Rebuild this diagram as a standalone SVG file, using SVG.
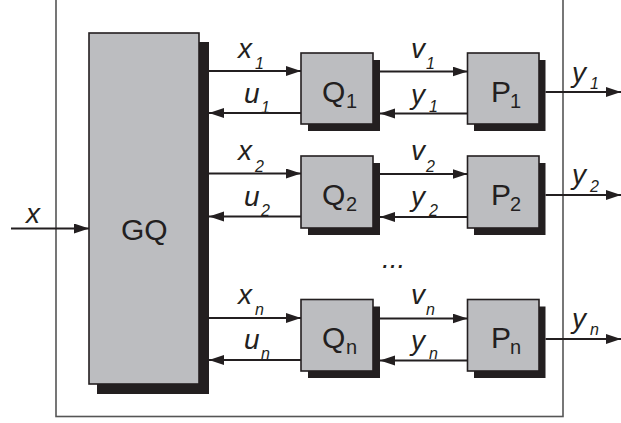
<svg xmlns="http://www.w3.org/2000/svg" width="621" height="423" viewBox="0 0 621 423">
  <defs>
    <marker id="arrow" markerUnits="userSpaceOnUse" markerWidth="16" markerHeight="12" refX="15" refY="5" orient="auto">
      <path d="M0,0 L15,5 L0,10 Z" fill="#231f20"/>
    </marker>
  </defs>
  <style>
    .frame { fill: none; stroke: #555; stroke-width: 1.6; }
    .box { fill: #bcbdc0; stroke: #231f20; stroke-width: 1.6; }
    .shadow { fill: #231f20; }
    .wire { stroke: #231f20; stroke-width: 2; fill: none; marker-end: url(#arrow); }
    .lab { font-family: "Liberation Sans", Arial, sans-serif; font-style: italic; font-size: 28px; fill: #231f20; }
    .sub { font-family: "Liberation Sans", Arial, sans-serif; font-style: italic; font-size: 16px; fill: #231f20; }
    .name { font-family: "Liberation Sans", Arial, sans-serif; font-size: 30px; fill: #231f20; }
    .nsub { font-family: "Liberation Sans", Arial, sans-serif; font-size: 20px; fill: #231f20; }
  </style>

  <!-- enclosing system boundary -->
  <rect class="frame" x="56" y="-5" width="507" height="421.5"/>

  <!-- coordinator -->
  <g id="GQ">
    <rect class="shadow" x="97" y="42" width="112" height="352"/>
    <rect class="box" x="89" y="33" width="110" height="351"/>
    <text class="name" x="121" y="240">GQ</text>
  </g>

  <!-- local quantizers -->
  <g id="Q1">
    <rect class="shadow" x="308" y="60" width="72" height="71"/>
    <rect class="box" x="301" y="53" width="72" height="71"/>
    <text class="name" x="322" y="102">Q</text><text class="nsub" x="346" y="108">1</text>
  </g>
  <g id="Q2">
    <rect class="shadow" x="308" y="163" width="72" height="72"/>
    <rect class="box" x="301" y="156" width="72" height="72"/>
    <text class="name" x="322" y="205">Q</text><text class="nsub" x="346" y="211">2</text>
  </g>
  <g id="Qn">
    <rect class="shadow" x="308" y="306.5" width="72" height="71.5"/>
    <rect class="box" x="301" y="299.5" width="72" height="71.5"/>
    <text class="name" x="322" y="348">Q</text><text class="nsub" x="346" y="354">n</text>
  </g>

  <!-- plants -->
  <g id="P1">
    <rect class="shadow" x="474" y="60" width="71.5" height="71"/>
    <rect class="box" x="467.5" y="53" width="71.5" height="71"/>
    <text class="name" x="491" y="102">P</text><text class="nsub" x="510" y="108">1</text>
  </g>
  <g id="P2">
    <rect class="shadow" x="474" y="163" width="71.5" height="72"/>
    <rect class="box" x="467.5" y="156" width="71.5" height="72"/>
    <text class="name" x="491" y="205">P</text><text class="nsub" x="510" y="211">2</text>
  </g>
  <g id="Pn">
    <rect class="shadow" x="474" y="306.5" width="71.5" height="71.5"/>
    <rect class="box" x="467.5" y="299.5" width="71.5" height="71.5"/>
    <text class="name" x="491" y="348">P</text><text class="nsub" x="510" y="354">n</text>
  </g>

  <text id="ellipsis" class="lab" x="382" y="268" font-style="normal" font-size="20">...</text>

  <!-- signal connectors -->
  <g id="connectors">
    <line class="wire" x1="11" y1="228.5" x2="89" y2="228.5"/>

    <line class="wire" x1="209" y1="71" x2="301" y2="71"/>
    <line class="wire" x1="301" y1="113" x2="209" y2="113"/>
    <line class="wire" x1="380" y1="71.5" x2="467.5" y2="71.5"/>
    <line class="wire" x1="467.5" y1="113.5" x2="380" y2="113.5"/>
    <line class="wire" x1="545.5" y1="92" x2="621" y2="92"/>

    <line class="wire" x1="209" y1="173.5" x2="301" y2="173.5"/>
    <line class="wire" x1="301" y1="216.5" x2="209" y2="216.5"/>
    <line class="wire" x1="380" y1="174" x2="467.5" y2="174"/>
    <line class="wire" x1="467.5" y1="217" x2="380" y2="217"/>
    <line class="wire" x1="545.5" y1="195" x2="621" y2="195"/>

    <line class="wire" x1="209" y1="318" x2="301" y2="318"/>
    <line class="wire" x1="301" y1="360" x2="209" y2="360"/>
    <line class="wire" x1="380" y1="318.5" x2="467.5" y2="318.5"/>
    <line class="wire" x1="467.5" y1="360.5" x2="380" y2="360.5"/>
    <line class="wire" x1="545.5" y1="339" x2="621" y2="339"/>
  </g>

  <!-- signal labels -->
  <g id="labels">
    <text class="lab" x="26" y="223">x</text>

    <text class="lab" x="238" y="58">x</text><text class="sub" x="255" y="69">1</text>
    <text class="lab" x="244" y="103">u</text><text class="sub" x="261" y="113">1</text>
    <text class="lab" x="411" y="58">v</text><text class="sub" x="426" y="69">1</text>
    <text class="lab" x="411" y="104">y</text><text class="sub" x="429" y="112">1</text>
    <text class="lab" x="572" y="82">y</text><text class="sub" x="590" y="89">1</text>

    <text class="lab" x="238" y="160">x</text><text class="sub" x="255" y="172">2</text>
    <text class="lab" x="244" y="206">u</text><text class="sub" x="261" y="216">2</text>
    <text class="lab" x="411" y="160">v</text><text class="sub" x="426" y="172">2</text>
    <text class="lab" x="411" y="206">y</text><text class="sub" x="429" y="216">2</text>
    <text class="lab" x="572" y="184">y</text><text class="sub" x="590" y="192">2</text>

    <text class="lab" x="238" y="304">x</text><text class="sub" x="255" y="315">n</text>
    <text class="lab" x="244" y="349">u</text><text class="sub" x="261" y="359">n</text>
    <text class="lab" x="411" y="304">v</text><text class="sub" x="426" y="315">n</text>
    <text class="lab" x="411" y="350">y</text><text class="sub" x="429" y="359">n</text>
    <text class="lab" x="572" y="328">y</text><text class="sub" x="590" y="335">n</text>
  </g>
</svg>
